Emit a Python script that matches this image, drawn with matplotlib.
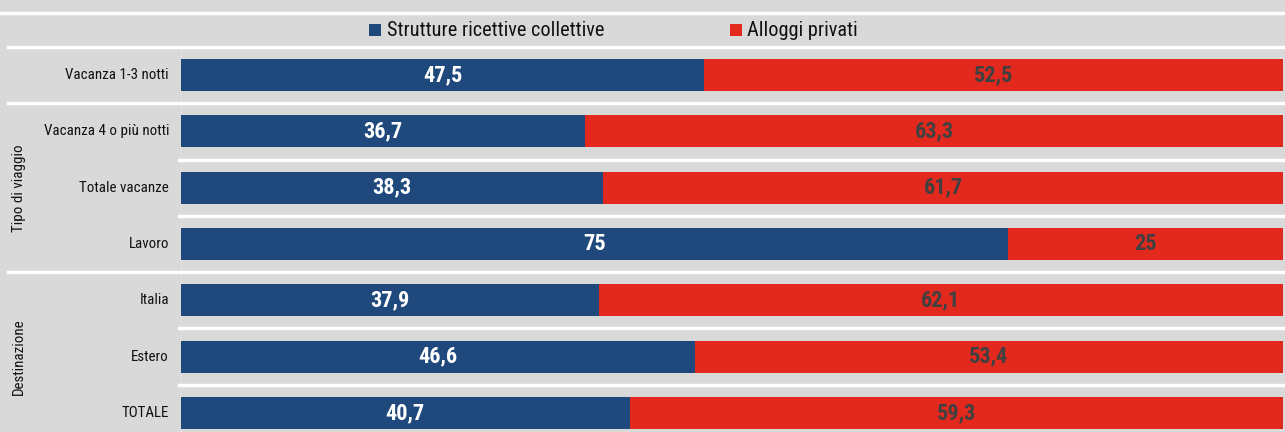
import matplotlib
matplotlib.use("Agg")
import matplotlib.pyplot as plt
from matplotlib import font_manager
from matplotlib.lines import Line2D
from matplotlib.patches import Rectangle

# pick a narrow font if one is installed
installed = {f.name for f in font_manager.fontManager.ttflist}
narrow = [n for n in ["Liberation Sans Narrow", "Arial Narrow", "Roboto Condensed",
                      "Noto Sans Condensed", "Open Sans Condensed",
                      "DejaVu Sans Condensed", "Liberation Sans"] if n in installed]
FONT = narrow[0] if narrow else "DejaVu Sans"
plt.rcParams["font.family"] = [FONT, "DejaVu Sans"]

categories = ["Vacanza 1-3 notti", "Vacanza 4 o più notti", "Totale vacanze",
              "Lavoro", "Italia", "Estero", "TOTALE"]
collettive = [47.5, 36.7, 38.3, 75, 37.9, 46.6, 40.7]
privati = [52.5, 63.3, 61.7, 25, 62.1, 53.4, 59.3]
series_names = ["Strutture ricettive collettive", "Alloggi privati"]
groups = [("Tipo di viaggio", 1, 3), ("Destinazione", 4, 6)]
group_breaks = [-0.5, 0.5, 3.5, 6.5]

BLUE = "#1f497d"
RED = "#e3281e"
BG = "#d9d9d9"

W, H = 1285, 432
fig = plt.figure(figsize=(W / 100, H / 100), dpi=100, facecolor=BG)

# axes spans pixel rows 47..441 (bottom row is clipped by the figure edge)
left, right, top, bottom = 181, 1283, 47, 441
ax = fig.add_axes([left / W, 1 - bottom / H, (right - left) / W, (bottom - top) / H])
ax.set_facecolor(BG)
ax.set_xlim(0, 100)
ax.set_ylim(len(categories) - 0.5, -0.5)
for s in ax.spines.values():
    s.set_visible(False)
ax.set_xticks([])
ax.set_yticks([])

y = list(range(len(categories)))
ax.barh(y, collettive, height=0.57, color=BLUE, zorder=2)
ax.barh(y, privati, left=collettive, height=0.57, color=RED, zorder=2)

narrow_font = FONT != "Liberation Sans"
val_fs = 16 if narrow_font else 14.5
lab_fs = 10.8 if narrow_font else 10
leg_fs = 14.6 if narrow_font else 12.5

for i in y:
    ax.text(collettive[i] / 2, i, f"{collettive[i]:g}".replace(".", ","),
            ha="center", va="center", color="white", fontsize=val_fs,
            fontweight="bold", zorder=3)
    ax.text(collettive[i] + privati[i] / 2, i, f"{privati[i]:g}".replace(".", ","),
            ha="center", va="center", color="#404040", fontsize=val_fs,
            fontweight="bold", zorder=3)
    ax.text(-12 / (right - left), i, categories[i], transform=ax.get_yaxis_transform(),
            ha="right", va="center", fontsize=lab_fs, color="#111111")

# row separators
trans = ax.get_yaxis_transform()
x_far = (8 - left) / (right - left)
for b in [k - 0.5 for k in range(len(categories) + 1)]:
    x0 = x_far if b in group_breaks else -2 / (right - left)
    ax.plot([x0, 1.01], [b, b], color="white", lw=2.5, transform=trans,
            clip_on=False, zorder=1)
ax.axvline(-0.15, color="white", lw=2.5, zorder=1)

for name, g0, g1 in groups:
    ax.text((19 - left) / (right - left), (g0 + g1) / 2, name, transform=trans,
            rotation=90, ha="center", va="center", fontsize=lab_fs, color="#111111")

# top white rule and legend
fig.add_artist(Line2D([0, 1], [1 - 13 / H, 1 - 13 / H], color="white", lw=2.5))
for (x_sq, x_tx), col, name in zip([(369, 387), (730, 747)], [BLUE, RED], series_names):
    fig.add_artist(Rectangle((x_sq / W, 1 - 36 / H), 12 / W, 12 / H,
                             facecolor=col, edgecolor="none"))
    fig.text(x_tx / W, 1 - 30 / H, name, ha="left", va="center",
             fontsize=leg_fs, color="#111111")

fig.savefig("out.png", dpi=100, facecolor=BG)
